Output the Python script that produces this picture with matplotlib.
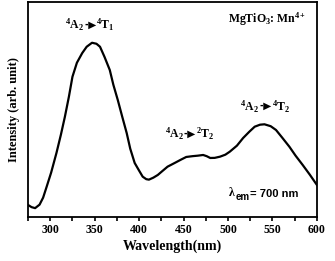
import matplotlib
matplotlib.use("Agg")
import matplotlib.pyplot as plt
from matplotlib.ticker import MultipleLocator

# excitation spectrum (arb. units)
wavelength = [275, 279, 283, 288, 292, 296, 301, 307, 312, 316.5, 321, 325, 330, 336, 341,
              347, 352, 356, 361, 367, 371, 376, 381, 386, 390, 395, 400, 404, 408, 411,
              416, 421, 426, 432, 440, 447, 453, 460, 466, 472, 476, 480, 485, 491, 497,
              502, 510, 517, 524, 530, 536, 541, 548, 554, 561, 569, 576, 584, 592, 600]
intensity = [11.7, 9.5, 8.5, 12, 19, 30, 44, 63.7, 82, 100, 120, 140, 154, 163.7, 170,
             174, 173, 170, 160, 146.7, 132, 116.7, 100, 83.7, 68, 53.7, 46, 40, 37.5, 37,
             39, 41.7, 45.5, 50, 53.7, 57, 59.7, 60.5, 61, 61.7, 60.5, 58.7, 58.8, 60, 62,
             65, 71, 78.7, 85, 90, 92, 92.4, 90.5, 86.7, 79, 70, 61, 51.7, 42, 31.7]

xticks = [300, 350, 400, 450, 500, 550, 600]

# transitions: (label x, label y, upper state multiplicity, T index)
transitions = [(345, 191.7, 4, 1), (457, 82.7, 2, 2), (542, 110, 4, 2)]

plt.rcParams['font.family'] = ['Liberation Serif', 'DejaVu Sans']
plt.rcParams['font.weight'] = 'bold'
plt.rcParams['mathtext.fontset'] = 'custom'
plt.rcParams['mathtext.rm'] = 'Liberation Serif:bold'
plt.rcParams['mathtext.it'] = 'Liberation Serif:bold'
plt.rcParams['mathtext.bf'] = 'Liberation Serif:bold'

fig = plt.figure(figsize=(3.35, 2.61), dpi=100)
ax = fig.add_axes([0.0836, 0.170, 0.8624, 0.822])
ax.plot(wavelength, intensity, color='black', lw=1.6)

ax.set_xlim(275, 600)
ax.set_ylim(0, 214.7)
ax.set_xticks(xticks)
ax.xaxis.set_minor_locator(MultipleLocator(25))
ax.tick_params(axis='x', which='both', direction='out', length=3, width=1.2, labelsize=8.5, pad=2)
ax.set_yticks([])
for s in ax.spines.values():
    s.set_linewidth(1.3)

ax.set_xlabel('Wavelength(nm)', fontsize=10, fontweight='bold', labelpad=3)
ax.set_ylabel('Intensity (arb. unit)', fontsize=9, fontweight='bold', labelpad=6)

for x, y, m, t in transitions:
    ax.annotate(r'$^{4}$A$_{2}$', (x, y), xytext=(-4.5, 0), textcoords='offset points',
                ha='right', va='center', fontsize=8.5)
    ax.annotate('-\u25B6', (x, y), xytext=(0, 0.5), textcoords='offset points',
                ha='center', va='center', fontsize=7.5, family='DejaVu Sans')
    ax.annotate(r'$^{%d}$T$_{%d}$' % (m, t), (x, y), xytext=(4.5, 0), textcoords='offset points',
                ha='left', va='center', fontsize=8.5)

ax.text(588, 197.7, r'MgTiO$_{3}$: Mn$^{4+}$', ha='right', va='center', fontsize=8.5)
ax.text(499.6, 24.5, r'$\lambda$', ha='left', va='center', fontsize=8.5)
ax.text(508.5, 19.5, 'em', ha='left', va='center', fontsize=7, family='Liberation Sans')
ax.text(524.5, 22.7, '= 700 nm', ha='left', va='center', fontsize=8, family='Liberation Sans')

fig.savefig('out.png', dpi=100)
